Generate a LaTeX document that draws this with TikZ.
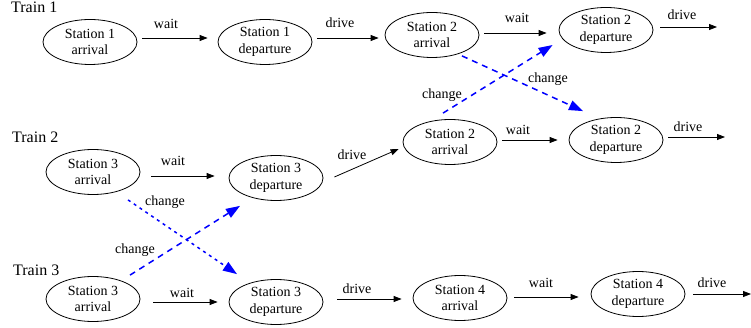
\documentclass[tikz,border=0pt]{standalone}
\usepackage{fontspec}
\setmainfont{Liberation Serif}
\usetikzlibrary{arrows.meta,shapes.geometric}
\begin{document}
\begin{tikzpicture}[x=1pt,y=-1pt,
  stn/.style={ellipse,draw,line width=0.8pt,minimum width=94pt,minimum height=45pt,inner sep=0pt,align=center,font=\fontsize{14}{16.5}\selectfont},
  flow/.style={draw,line width=0.8pt,-{Triangle[length=8pt,width=6pt]}},
  chg/.style={draw=blue,line width=1.5pt,dash pattern=on 6pt off 5pt,-{Triangle[length=14pt,width=10pt]}},
  chgdot/.style={chg,dash pattern=on 3pt off 4pt},
  lbl/.style={font=\fontsize{14}{16}\selectfont,inner sep=0pt},
  train/.style={font=\fontsize{16}{18}\selectfont,inner sep=0pt,anchor=base west}]
\useasboundingbox (0,0) rectangle (751,328);

% train labels
\node[train] (t1) at (11,13) {Train 1};
\node[train] (t2) at (12,143) {Train 2};
\node[train] (t3) at (13,276) {Train 3};

% row 1
\node[stn] (s1a) at (90,42) {Station 1\\arrival};
\node[stn] (s1d) at (265,42) {Station 1\\departure};
\node[stn] (s2a1) at (432,35) {Station 2\\arrival};
\node[stn] (s2d1) at (606,30) {Station 2\\departure};
\coordinate (e1) at (717,27);

% row 2
\node[stn] (s3a2) at (93,172) {Station 3\\arrival};
\node[stn] (s3d2) at (276,178) {Station 3\\departure};
\node[stn] (s2a2) at (450,142) {Station 2\\arrival};
\node[stn] (s2d2) at (616,140) {Station 2\\departure};
\coordinate (e2) at (725,137);

% row 3
\node[stn] (s3a3) at (93,299) {Station 3\\arrival};
\node[stn] (s3d3) at (276,302) {Station 3\\departure};
\node[stn] (s4a) at (460,298) {Station 4\\arrival};
\node[stn] (s4d) at (638,294) {Station 4\\departure};
\coordinate (e3) at (751,294);

% row 1 arrows
\draw[flow] ([xshift=5pt,yshift=4pt]s1a.east) -- ([xshift=-10pt,yshift=4pt]s1d.west);
\draw[flow] ([xshift=5pt,yshift=4pt]s1d.east) -- ([xshift=-6pt,yshift=-3pt]s2a1.west);
\draw[flow] ([xshift=5pt,yshift=2pt]s2a1.east) -- ([xshift=-12pt,yshift=-3pt]s2d1.west);
\draw[flow] ([xshift=7pt,yshift=3pt]s2d1.east) -- (e1);
\node[lbl] (w11) at (166,24) {wait};
\node[lbl] (d11) at (340,23) {drive};
\node[lbl] (w12) at (517,18) {wait};
\node[lbl] (d12) at (682,15) {drive};

% row 2 arrows
\draw[flow] ([xshift=11pt,yshift=-4pt]s3a2.east) -- ([xshift=-14pt,yshift=2pt]s3d2.west);
\draw[flow] ([xshift=11pt,yshift=1pt]s3d2.east) -- ([xshift=-4pt,yshift=-7pt]s2a2.west);
\draw[flow] ([xshift=5pt,yshift=2pt]s2a2.east) -- ([xshift=-11pt]s2d2.west);
\draw[flow] ([xshift=5pt,yshift=3pt]s2d2.east) -- (e2);
\node[lbl] (w21) at (173,161) {wait};
\node[lbl] (d21) at (352,155) {drive};
\node[lbl] (w22) at (518,130) {wait};
\node[lbl] (d22) at (688,127) {drive};

% row 3 arrows
\draw[flow] ([xshift=13pt,yshift=-3pt]s3a3.east) -- ([xshift=-11pt]s3d3.west);
\draw[flow] ([xshift=14pt,yshift=3pt]s3d3.east) -- ([xshift=-11pt,yshift=-1pt]s4a.west);
\draw[flow] ([xshift=7pt,yshift=1pt]s4a.east) -- ([xshift=-12pt,yshift=-3pt]s4d.west);
\draw[flow] ([xshift=8pt]s4d.east) -- (e3);
\node[lbl] (w31) at (182,293) {wait};
\node[lbl] (d31) at (357,289) {drive};
\node[lbl] (w32) at (541,283) {wait};
\node[lbl] (d32) at (712,283) {drive};

% change arrows
\draw[chg] ([xshift=30pt,yshift=2pt]s2a1.south) -- ([xshift=-33pt,yshift=6pt]s2d2.north);
\draw[chg] ([xshift=-7pt,yshift=6pt]s2a2.north) -- ([xshift=-6pt,yshift=-15pt]s2d1.west);
\draw[chgdot] ([xshift=35pt,yshift=-5pt]s3a2.south) -- ([xshift=-39pt,yshift=5pt]s3d3.north);
\draw[chg] ([xshift=37pt,yshift=1pt]s3a3.north) -- ([xshift=-36pt,yshift=-5pt]s3d2.south);
\node[lbl] (c1) at (548,79) {change};
\node[lbl] (c2) at (442,95) {change};
\node[lbl] (c3) at (165,202) {change};
\node[lbl] (c4) at (135,250) {change};
\end{tikzpicture}
\end{document}
